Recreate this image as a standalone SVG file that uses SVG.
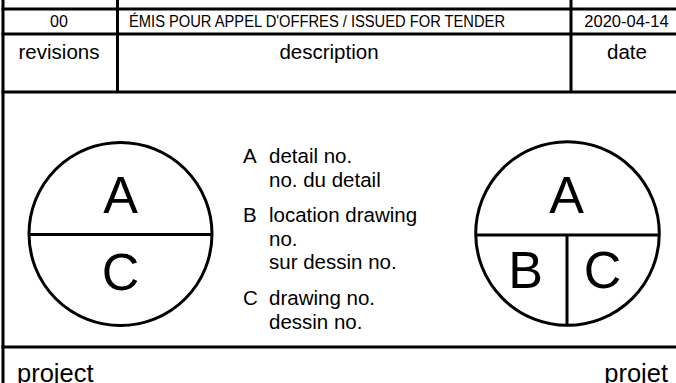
<svg xmlns="http://www.w3.org/2000/svg" width="676" height="383" viewBox="0 0 676 383">
<style>
.ln{stroke:#000;stroke-width:3;fill:none;stroke-linecap:butt}
.t{font-family:"Liberation Sans",Arial,sans-serif;fill:#000}
.big{font-size:52px}
.lg{font-size:20.5px}
</style>
<rect width="676" height="383" fill="#fff"/>
<g id="frame">
<line class="ln" x1="3" y1="0" x2="3" y2="383"/>
<line class="ln" x1="117.5" y1="0" x2="117.5" y2="92"/>
<line class="ln" x1="571" y1="0" x2="571" y2="92"/>
<line class="ln" x1="1.5" y1="9" x2="676" y2="9"/>
<line class="ln" x1="1.5" y1="34" x2="676" y2="34"/>
<line class="ln" x1="1.5" y1="92" x2="676" y2="92"/>
<line class="ln" x1="1.5" y1="347" x2="676" y2="347"/>
</g>
<g id="revision-table">
<text class="t" x="59" y="27" font-size="16" text-anchor="middle">00</text>
<text class="t" x="129" y="27" font-size="16" textLength="376" lengthAdjust="spacingAndGlyphs">ÉMIS POUR APPEL D'OFFRES / ISSUED FOR TENDER</text>
<text class="t" x="626.5" y="27" font-size="16.5" text-anchor="middle">2020-04-14</text>
<text class="t" x="59" y="59" font-size="20.5" text-anchor="middle">revisions</text>
<text class="t" x="329" y="59" font-size="20.5" text-anchor="middle">description</text>
<text class="t" x="627" y="59" font-size="20.5" text-anchor="middle">date</text>
</g>
<g id="symbol-left">
<circle class="ln" cx="120.5" cy="234" r="91.5"/>
<line class="ln" x1="29" y1="234.5" x2="212" y2="234.5"/>
<text class="t big" x="120.5" y="213" text-anchor="middle">A</text>
<text class="t big" x="120.5" y="290" text-anchor="middle">C</text>
</g>
<g id="legend">
<text class="t lg" x="243" y="163">A</text>
<text class="t lg" x="269" y="163">detail no.</text>
<text class="t lg" x="269" y="186.5">no. du detail</text>
<text class="t lg" x="243" y="222">B</text>
<text class="t lg" x="269" y="222">location drawing</text>
<text class="t lg" x="269" y="245.5">no.</text>
<text class="t lg" x="269" y="269">sur dessin no.</text>
<text class="t lg" x="243" y="305">C</text>
<text class="t lg" x="269" y="305">drawing no.</text>
<text class="t lg" x="269" y="328.5">dessin no.</text>
</g>
<g id="symbol-right">
<circle class="ln" cx="567.5" cy="233.5" r="91.8"/>
<line class="ln" x1="476" y1="235" x2="659" y2="235"/>
<line class="ln" x1="567" y1="235" x2="567" y2="325"/>
<text class="t big" x="566.5" y="213" text-anchor="middle">A</text>
<text class="t big" x="525.5" y="288" text-anchor="middle">B</text>
<text class="t big" x="602.5" y="288" text-anchor="middle">C</text>
</g>
<g id="title">
<text class="t" x="17" y="382" font-size="25.5">project</text>
<text class="t" x="668" y="382" font-size="25.5" text-anchor="end">projet</text>
</g>
</svg>
